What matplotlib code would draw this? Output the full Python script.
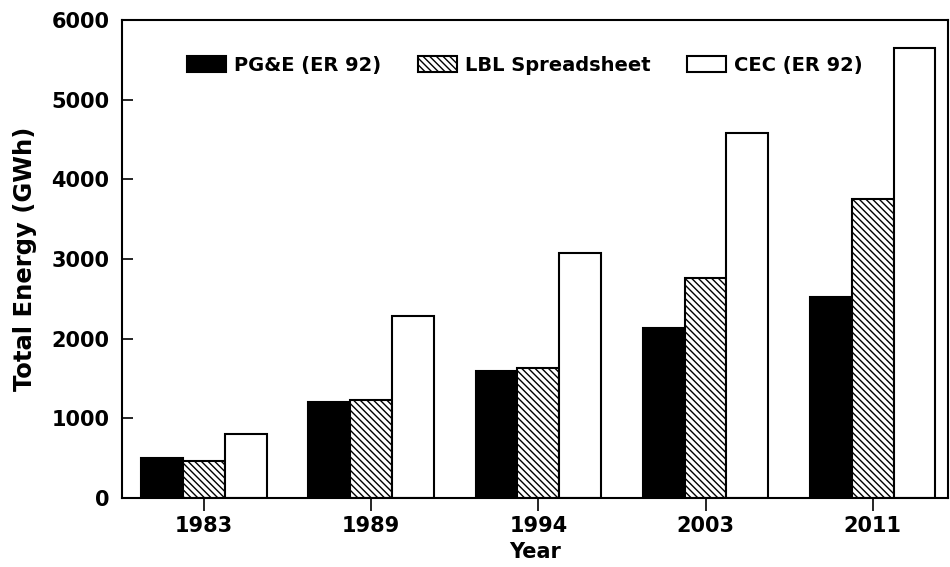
import matplotlib
matplotlib.use("Agg")
import matplotlib.pyplot as plt
import numpy as np

years = ["1983", "1989", "1994", "2003", "2011"]
series_names = ["PG&E (ER 92)", "LBL Spreadsheet", "CEC (ER 92)"]
pge = [500, 1200, 1590, 2130, 2520]
lbl = [470, 1230, 1630, 2760, 3750]
cec = [800, 2280, 3080, 4580, 5650]
yticks = [0, 1000, 2000, 3000, 4000, 5000, 6000]

plt.rcParams['font.family'] = ['DejaVu Sans']
plt.rcParams['font.weight'] = 'bold'
plt.rcParams['hatch.linewidth'] = 1.0

fig = plt.figure(figsize=(9.5, 5.67), dpi=100)
ax = fig.add_axes([122/950, (567-498)/567, 826/950, 478/567])

x = np.arange(len(years))
w = 0.25
ax.bar(x - w, pge, w, color='black', edgecolor='black', linewidth=1.5, label=series_names[0])
ax.bar(x, lbl, w, color='white', edgecolor='black', hatch='\\\\\\\\\\', linewidth=1.5, label=series_names[1])
ax.bar(x + w, cec, w, color='white', edgecolor='black', linewidth=1.5, label=series_names[2])

ax.set_xlim(-0.49, 4.45)
ax.set_ylim(0, 6000)
ax.set_yticks(yticks)
ax.set_yticklabels([str(t) for t in yticks])
ax.set_xticks(x)
ax.set_xticklabels(years)
ax.tick_params(axis='y', direction='in', length=8, width=1.2, labelsize=15, pad=9)
ax.tick_params(axis='x', direction='out', length=9, width=1.2, labelsize=15, pad=4)
for lab in ax.get_xticklabels() + ax.get_yticklabels():
    lab.set_fontweight('bold')
for s in ax.spines.values():
    s.set_linewidth(1.5)

ax.set_ylabel("Total Energy (GWh)", fontsize=17.5, fontweight='bold', labelpad=10)
ax.set_xlabel("Year", fontsize=15, fontweight='bold', labelpad=4)

leg = ax.legend(loc='upper left', bbox_to_anchor=(0.079, 0.925), ncol=3, frameon=False,
                prop={'size': 14, 'weight': 'bold'}, handlelength=2.0, handleheight=0.9,
                columnspacing=1.9, handletextpad=0.4, borderaxespad=0, borderpad=0)

fig.savefig("out.png", dpi=100)
